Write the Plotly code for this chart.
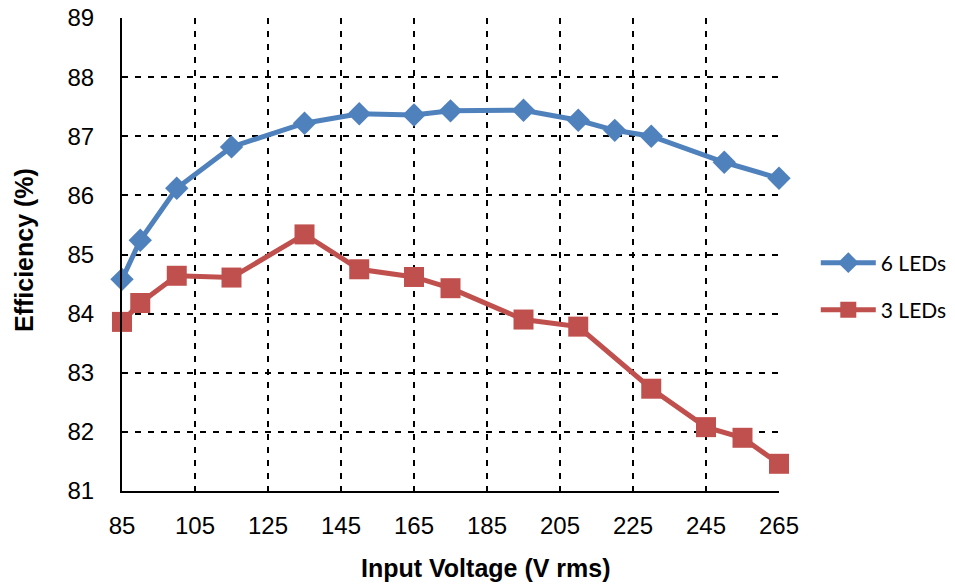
import plotly.graph_objects as go

# Data
v6 = [85, 90, 100, 115, 135, 150, 165, 175, 195, 210, 220, 230, 250, 265]
eff6 = [84.58, 85.24, 86.12, 86.82, 87.22, 87.38, 87.36, 87.43, 87.44, 87.27, 87.10, 87.00, 86.56, 86.29]
v3 = [85, 90, 100, 115, 135, 150, 165, 175, 195, 210, 230, 245, 255, 265]
eff3 = [83.86, 84.18, 84.64, 84.61, 85.34, 84.75, 84.62, 84.43, 83.90, 83.78, 82.73, 82.08, 81.90, 81.46]
x_ticks = [85, 105, 125, 145, 165, 185, 205, 225, 245, 265]
y_ticks = [81, 82, 83, 84, 85, 86, 87, 88, 89]

BLUE = "#4F81BD"
RED = "#C0504D"

fig = go.Figure()
fig.add_trace(go.Scatter(
    x=v6, y=eff6, name="6 LEDs", mode="lines+markers",
    line=dict(color=BLUE, width=5),
    marker=dict(symbol="diamond", size=18, color=BLUE),
    legend="legend", cliponaxis=False,
))
fig.add_trace(go.Scatter(
    x=v3, y=eff3, name="3 LEDs", mode="lines+markers",
    line=dict(color=RED, width=5),
    marker=dict(symbol="square", size=20, color=RED),
    legend="legend2", cliponaxis=False,
))

grid = dict(showgrid=True, gridcolor="black", gridwidth=1.7, griddash="6px,7px")
fig.update_xaxes(
    range=[85, 265], tickvals=x_ticks, ticktext=[str(t) for t in x_ticks],
    showline=True, linecolor="black", linewidth=2, zeroline=False,
    ticks="outside", ticklen=12, tickcolor="rgba(0,0,0,0)",
    tickfont=dict(family="Liberation Sans", size=24, color="black"),
    **grid,
)
fig.update_yaxes(
    range=[81, 89], tickvals=y_ticks,
    showline=True, linecolor="black", linewidth=2, zeroline=False,
    ticks="outside", ticklen=21, tickcolor="rgba(0,0,0,0)",
    tickfont=dict(family="Liberation Sans", size=24, color="black"),
    **grid,
)

legfont = dict(family="Lato", size=21, color="black")
fig.update_layout(
    width=955, height=586,
    margin=dict(l=122, r=176, t=18, b=95, autoexpand=False),
    plot_bgcolor="white", paper_bgcolor="white",
    showlegend=True,
    legend=dict(x=1.056, y=(586 - 95 - 263) / 473, xanchor="left", yanchor="middle",
                font=legfont, bgcolor="rgba(0,0,0,0)", itemwidth=55),
    legend2=dict(x=1.056, y=(586 - 95 - 310) / 473, xanchor="left", yanchor="middle",
                 font=legfont, bgcolor="rgba(0,0,0,0)", itemwidth=55),
    annotations=[
        dict(text="<b>Input Voltage (V rms)</b>", xref="paper", yref="paper",
             x=(486 - 122) / 657, y=-(568 - 491) / 473, xanchor="center", yanchor="middle",
             showarrow=False, font=dict(family="Liberation Sans", size=25, color="black")),
        dict(text="<b>Efficiency (%)</b>", xref="paper", yref="paper",
             x=-(122 - 24) / 657, y=(491 - 250) / 473, xanchor="center", yanchor="middle",
             textangle=-90,
             showarrow=False, font=dict(family="Liberation Sans", size=25, color="black")),
    ],
)

fig.write_html("out.html")
